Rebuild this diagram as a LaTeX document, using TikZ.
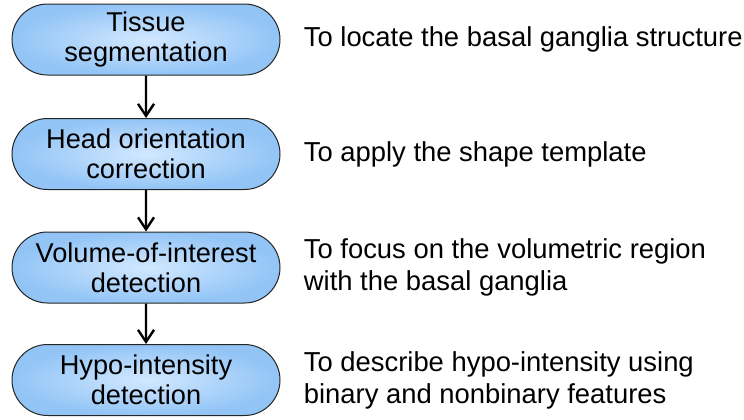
\documentclass[tikz,border=0pt]{standalone}
\usepackage{fontspec}
\setmainfont{Liberation Sans}
\usepackage{tikz}
\usetikzlibrary{positioning,arrows.meta,shapes.misc}
\definecolor{pillout}{RGB}{146,196,246}
\definecolor{pillin}{RGB}{210,232,255}
\tikzset{
	stage/.style={rounded rectangle,minimum width=134pt,minimum height=35.5pt,draw=black!85,line width=0.5pt,
		inner color=pillin,outer color=pillout,align=center,inner sep=0pt,
		font=\fontsize{13.6}{15}\selectfont},
	note/.style={inner sep=0pt,align=left,font=\fontsize{13.7}{16}\selectfont},
	flow/.style={-{Straight Barb[length=6pt,width=8pt,line width=1.2pt]},line width=1.2pt}
}

\begin{document}
\begin{tikzpicture}[x=0.5pt,y=-0.5pt]
		\useasboundingbox (0,0) rectangle (744,419);
		\node[stage] (seg) at (146,39.5) {Tissue\\segmentation};
		\node[stage] (orient) at (146,154) {Head orientation\\correction};
		\node[stage] (voi) at (146,267.5) {Volume-of-interest\\detection};
		\node[stage] (hypo) at (146,380) {Hypo-intensity\\detection};
		
		\node[note,right=11.5pt of seg] (segnote) {To locate the basal ganglia structure};
		\node[note,right=11.5pt of orient] (orientnote) {To apply the shape template};
		\node[note,right=11.5pt of voi] (voinote) {To focus on the volumetric region\\with the basal ganglia};
		\node[note,right=11.5pt of hypo] (hyponote) {To describe hypo-intensity using\\binary and nonbinary features};
		
		\draw[flow] (seg)--(orient);
		\draw[flow] (orient)--(voi);
		\draw[flow] (voi)--(hypo);
	\end{tikzpicture}
\end{document}
